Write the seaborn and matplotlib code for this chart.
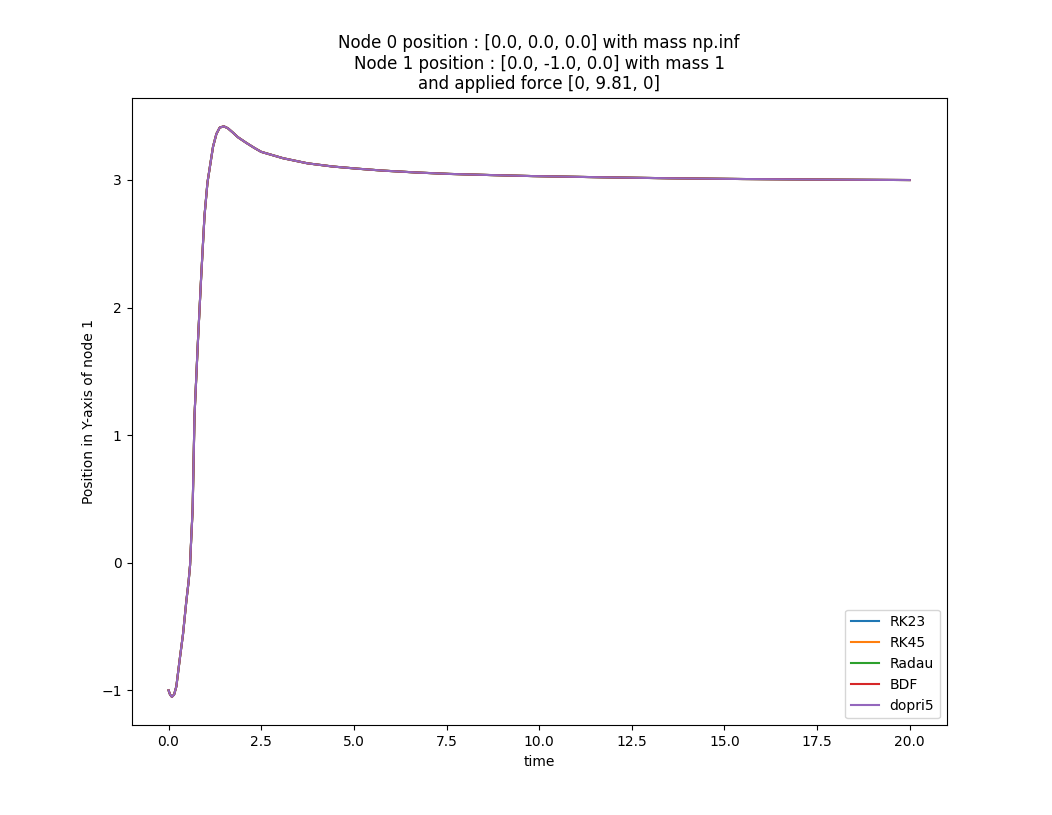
import matplotlib
matplotlib.use("Agg")
import matplotlib.pyplot as plt
import seaborn as sns
import pandas as pd

methods = ["RK23", "RK45", "Radau", "BDF", "dopri5"]
colors = ["#1f77b4", "#ff7f0e", "#2ca02c", "#d62728", "#9467bd"]

time = [0.0, 0.04, 0.09, 0.15, 0.21, 0.30, 0.39, 0.48, 0.54, 0.58, 0.61, 0.65,
        0.70, 0.79, 0.88, 0.97, 1.05, 1.13, 1.20, 1.29, 1.38, 1.49, 1.60, 1.74,
        1.87, 2.10, 2.32, 2.50, 3.09, 3.75, 4.43, 5.10, 5.78, 6.70, 7.58, 8.70,
        9.83, 11.63, 13.5, 15.5, 17.5, 20.0]
pos_y = [-1.0, -1.033, -1.051, -1.033, -0.97, -0.76, -0.56, -0.30, -0.15, -0.02,
         0.18, 0.42, 1.15, 1.72, 2.24, 2.72, 2.98, 3.13, 3.26, 3.36, 3.41, 3.42,
         3.405, 3.37, 3.335, 3.29, 3.25, 3.22, 3.17, 3.13, 3.105, 3.088, 3.073,
         3.058, 3.047, 3.038, 3.030, 3.021, 3.013, 3.007, 3.003, 2.999]

fig, ax = plt.subplots(figsize=(10.52, 8.15), dpi=100)
for m, c in zip(methods, colors):
    df = pd.DataFrame({"time": time, "y": pos_y})
    sns.lineplot(data=df, x="time", y="y", color=c, label=m, ax=ax,
                 estimator=None, sort=False, linewidth=1.5)

ax.set_xticks([0, 2.5, 5, 7.5, 10, 12.5, 15, 17.5, 20])
ax.set_xlabel("time")
ax.set_ylabel("Position in Y-axis of node 1")
ax.set_title("Node 0 position : [0.0, 0.0, 0.0] with mass np.inf\n"
             "Node 1 position : [0.0, -1.0, 0.0] with mass 1\n"
             "and applied force [0, 9.81, 0]")
ax.legend(loc="lower right")
fig.savefig("out.png", dpi=100)
